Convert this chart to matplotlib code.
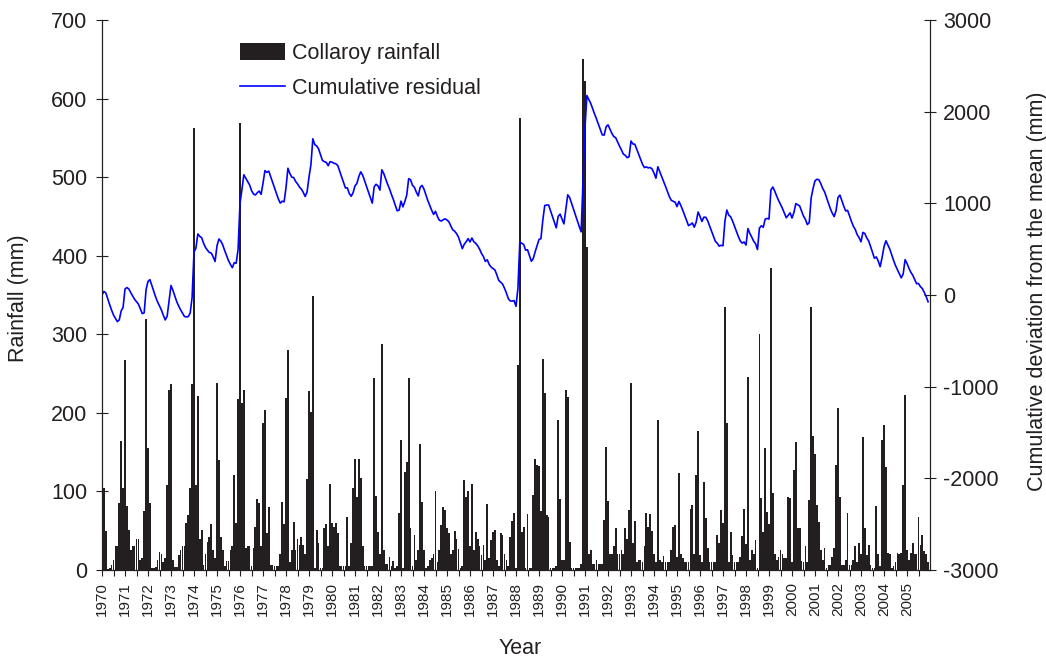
import numpy as np
import matplotlib
matplotlib.use("Agg")
import matplotlib.pyplot as plt
from matplotlib.patches import Patch
from matplotlib.lines import Line2D

plt.rcParams['font.family'] = ['Liberation Sans', 'DejaVu Sans']
plt.rcParams['axes.unicode_minus'] = False

start_year = 1970
year_labels = [str(y) for y in range(1970, 2006)]

# Monthly rainfall (mm), Jan..Dec
rain_1970 = [140, 105, 50, 1, 3, 6, 13, 30, 30, 85, 164, 104]
rain_1971 = [267, 82, 51, 25, 30, 30, 40, 40, 13, 15, 75, 320]
rain_1972 = [155, 85, 2, 2, 4, 13, 23, 20, 10, 15, 108, 229]
rain_1973 = [237, 13, 4, 4, 19, 25, 30, 30, 60, 70, 104, 237]
rain_1974 = [562, 108, 221, 40, 51, 6, 20, 36, 42, 59, 25, 15]
rain_1975 = [238, 140, 42, 25, 5, 11, 11, 25, 30, 121, 60, 218]
rain_1976 = [569, 213, 229, 28, 30, 30, 5, 28, 55, 90, 85, 30]
rain_1977 = [187, 204, 47, 80, 6, 6, 5, 5, 5, 20, 87, 59]
rain_1978 = [219, 280, 10, 25, 61, 25, 39, 32, 42, 32, 20, 116]
rain_1979 = [228, 201, 349, 3, 51, 34, 3, 3, 53, 58, 30, 110]
rain_1980 = [60, 55, 60, 47, 5, 5, 5, 5, 67, 5, 35, 105]
rain_1981 = [141, 93, 141, 117, 30, 5, 5, 5, 5, 5, 244, 94]
rain_1982 = [48, 20, 288, 25, 8, 8, 16, 5, 11, 3, 5, 73]
rain_1983 = [165, 3, 125, 137, 244, 54, 5, 45, 13, 25, 161, 86]
rain_1984 = [25, 2, 5, 13, 15, 20, 100, 10, 25, 57, 80, 76]
rain_1985 = [53, 47, 20, 25, 50, 40, 27, 2, 5, 115, 93, 100]
rain_1986 = [30, 109, 25, 49, 39, 30, 19, 32, 13, 84, 15, 38]
rain_1987 = [49, 51, 13, 5, 47, 45, 21, 13, 5, 42, 63, 73]
rain_1988 = [3, 261, 575, 49, 55, 3, 71, 3, 3, 95, 141, 134]
rain_1989 = [132, 75, 269, 225, 70, 68, 3, 3, 3, 5, 191, 91]
rain_1990 = [13, 13, 229, 220, 36, 3, 3, 3, 3, 3, 8, 651]
rain_1991 = [623, 411, 21, 25, 8, 8, 13, 8, 8, 8, 64, 156]
rain_1992 = [88, 20, 20, 30, 54, 20, 20, 25, 20, 53, 40, 76]
rain_1993 = [238, 34, 63, 10, 13, 13, 10, 30, 73, 55, 71, 50]
rain_1994 = [21, 10, 191, 13, 10, 18, 10, 10, 10, 26, 55, 57]
rain_1995 = [17, 123, 21, 15, 10, 10, 10, 78, 83, 20, 121, 177]
rain_1996 = [19, 10, 112, 66, 28, 10, 10, 10, 10, 45, 34, 76]
rain_1997 = [60, 335, 187, 10, 49, 19, 10, 10, 10, 17, 43, 78]
rain_1998 = [33, 246, 13, 26, 21, 38, 3, 300, 92, 49, 155, 74]
rain_1999 = [59, 384, 98, 21, 13, 17, 25, 21, 15, 15, 93, 92]
rain_2000 = [10, 127, 163, 53, 53, 11, 10, 30, 10, 89, 335, 170]
rain_2001 = [148, 83, 61, 25, 13, 28, 3, 6, 6, 17, 28, 134]
rain_2002 = [206, 93, 6, 6, 13, 73, 6, 6, 13, 30, 10, 34]
rain_2003 = [20, 169, 53, 19, 32, 6, 2, 2, 81, 20, 5, 166]
rain_2004 = [184, 131, 22, 20, 3, 5, 10, 22, 20, 22, 108, 223]
rain_2005 = [25, 13, 22, 34, 20, 20, 68, 32, 45, 24, 20, 10]

yearly = [rain_1970, rain_1971, rain_1972, rain_1973, rain_1974, rain_1975,
          rain_1976, rain_1977, rain_1978, rain_1979, rain_1980, rain_1981,
          rain_1982, rain_1983, rain_1984, rain_1985, rain_1986, rain_1987,
          rain_1988, rain_1989, rain_1990, rain_1991, rain_1992, rain_1993,
          rain_1994, rain_1995, rain_1996, rain_1997, rain_1998, rain_1999,
          rain_2000, rain_2001, rain_2002, rain_2003, rain_2004, rain_2005]

rain = np.array([v for yr in yearly for v in yr], dtype=float)
xm = start_year + np.arange(len(rain)) / 12.0
# cumulative residual: running sum of deviations from the mean, starting at 0
resid = np.concatenate([[0.0], np.cumsum(rain[1:] - rain.mean())])

ink = '#231f20'
W, H = 1046, 661
fig = plt.figure(figsize=(W / 100, H / 100), dpi=100)
L, R, T, B = 102, 930, 20, 570
ax = fig.add_axes([L / W, 1 - B / H, (R - L) / W, (B - T) / H])

ax.bar(xm, rain, width=0.92 / 12, align='center', color=ink, linewidth=0)
ax.set_xlim(1970, 2006)
ax.set_ylim(0, 700)

ax2 = ax.twinx()
ax2.plot(xm, resid, color='#0000ff', lw=1.2)
ax2.set_ylim(-3000, 3000)

for a in (ax, ax2):
    a.spines['top'].set_visible(False)
    for s in ('left', 'right', 'bottom'):
        a.spines[s].set_color(ink)
        a.spines[s].set_linewidth(0.8)

ax.set_yticks(np.arange(0, 701, 100))
ax2.set_yticks(np.arange(-3000, 3001, 1000))
ax.tick_params(axis='y', direction='inout', length=9, width=0.8, color=ink,
               labelsize=15.5, labelcolor=ink, pad=6)
ax2.tick_params(axis='y', direction='inout', length=9, width=0.8, color=ink,
                labelsize=15.5, labelcolor=ink, pad=5)

ax.set_xticks(np.arange(1970, 2006))
ax.set_xticklabels(year_labels, rotation=90)
ax.set_xticks(np.arange(1970.5, 2006, 1.0), minor=True)
ax.tick_params(axis='x', which='both', direction='out', length=4, width=0.8,
               color=ink, labelsize=11, labelcolor=ink, pad=5)

ax.set_ylabel('Rainfall (mm)', fontsize=15.5, color=ink)
ax.yaxis.set_label_coords(-0.088, 0.495)
ax2.set_ylabel('Cumulative deviation from the mean (mm)', fontsize=15.5,
               color=ink, rotation=90)
ax2.yaxis.set_label_coords(1.117, 0.507)
ax.set_xlabel('Year', fontsize=15.5, color=ink)
ax.xaxis.set_label_coords(0.505, -0.124)

handles = [Patch(facecolor=ink, edgecolor='none'),
           Line2D([], [], color='#0000ff', lw=1.2)]
ax2.legend(handles, ['Collaroy rainfall', 'Cumulative residual'],
           loc='upper left', bbox_to_anchor=(0.167, 0.958), frameon=False,
           fontsize=15.5, handlelength=2.1, handleheight=0.85,
           handletextpad=0.3, labelspacing=0.65, borderaxespad=0, borderpad=0,
           labelcolor=ink)

fig.savefig('out.png', dpi=100)
